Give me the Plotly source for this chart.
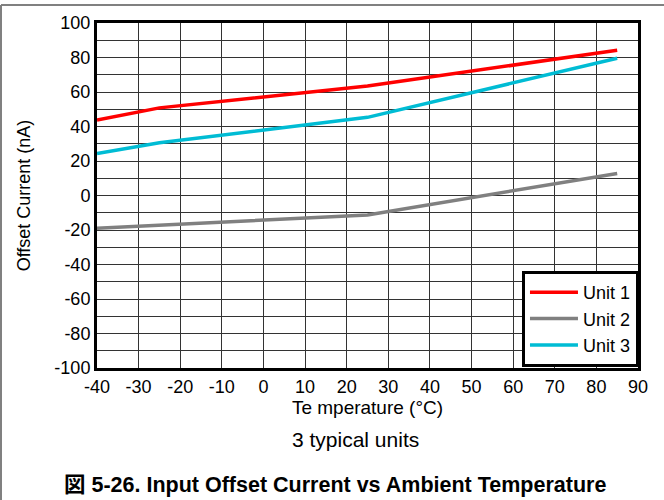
import plotly.graph_objects as go

temp = [-40, -25, 25, 85]
unit1 = [43.8, 50.8, 63.5, 84.2]
unit2 = [-19.0, -17.3, -11.3, 12.8]
unit3 = [24.3, 30.6, 45.3, 79.6]

names = ["Unit 1", "Unit 2", "Unit 3"]
colors = ["#ff0000", "#808080", "#00bcd4"]
series = [unit1, unit2, unit3]

xticks = list(range(-40, 100, 10))
yticks = list(range(-100, 120, 20))

W, H = 664, 500
L, R, T, B = 97, 26, 23, 132
pw, ph = W - L - R, H - T - B

fig = go.Figure()
for name, col, vals in zip(names, colors, series):
    fig.add_trace(go.Scatter(x=temp, y=vals, mode="lines", name=name,
                             line=dict(color=col, width=3.5)))

font = "Liberation Sans, Arial, Noto Sans CJK JP, sans-serif"

fig.update_layout(
    width=W, height=H,
    margin=dict(l=L, r=R, t=T, b=B),
    paper_bgcolor="white", plot_bgcolor="white",
    font=dict(family=font, color="black", size=18),
    showlegend=True,
    legend=dict(x=1.0018, y=0.003, xanchor="right", yanchor="bottom",
                bgcolor="white", bordercolor="black", borderwidth=3,
                font=dict(size=18), tracegroupgap=0,
                itemwidth=48),
    xaxis=dict(range=[-40, 90], tickvals=xticks,
               ticktext=[str(v) for v in xticks], showgrid=True,
               gridcolor="#333", gridwidth=1, zeroline=False,
               showline=True, linecolor="black", linewidth=3, mirror=True,
               ticks="", ticklen=0,
               title=dict(text="Te mperature (°C)", font=dict(size=19),
                          standoff=0)),
    yaxis=dict(range=[-100, 100], tickvals=yticks,
               ticktext=[str(v) for v in yticks], showgrid=True,
               gridcolor="#333", gridwidth=1, zeroline=False,
               showline=True, linecolor="black", linewidth=3, mirror=True,
               ticks="", ticklen=0,
               minor=dict(dtick=10, showgrid=True, gridcolor="#333",
                          gridwidth=1),
               title=dict(text="Offset Current (nA)", font=dict(size=18),
                          standoff=20)),
)

# outer gray frame (top and left edges visible)
fig.add_shape(type="line", xref="paper", yref="paper",
              x0=(1 - L) / pw, x1=(W - L) / pw,
              y0=(H - 5 - B) / ph, y1=(H - 5 - B) / ph,
              line=dict(color="#808080", width=2))
fig.add_shape(type="line", xref="paper", yref="paper",
              x0=(1 - L) / pw, x1=(1 - L) / pw,
              y0=(H - 5 - B) / ph, y1=-B / ph,
              line=dict(color="#808080", width=2))

fig.add_annotation(text="3 typical units", xref="paper", yref="paper",
                   x=(355 - L) / pw, y=(H - 440 - B) / ph, showarrow=False,
                   xanchor="center", yanchor="middle", font=dict(size=21))
fig.add_annotation(text="<b>図 5-26. Input Offset Current vs Ambient Temperature</b>",
                   xref="paper", yref="paper",
                   x=(335 - L) / pw, y=(H - 485 - B) / ph, showarrow=False,
                   xanchor="center", yanchor="middle", font=dict(size=21.5))

fig.write_html("out.html", config={"displayModeBar": False},
               post_script="document.body.style.margin='0';"
                           "document.body.style.overflow='hidden';")
